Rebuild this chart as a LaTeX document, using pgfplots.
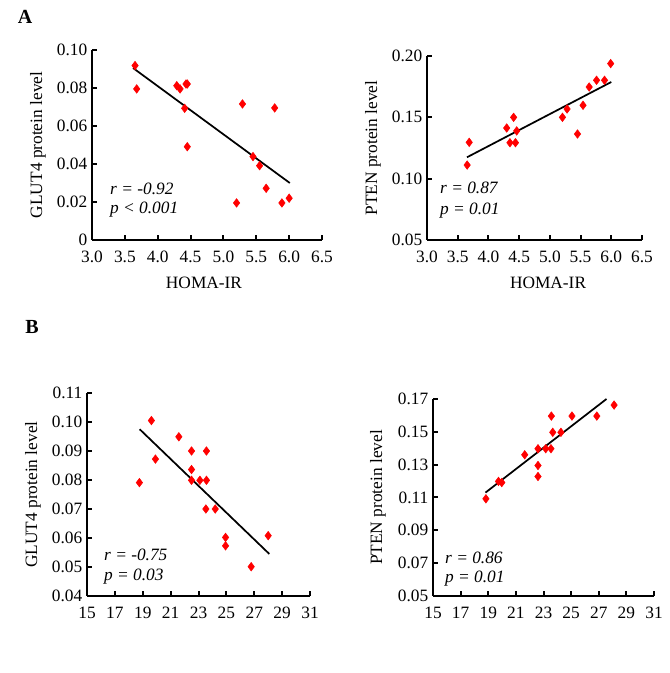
\documentclass[border=0pt]{standalone}
\usepackage{pgfplots}
\pgfplotsset{compat=1.18}
\usepackage{fontspec}
\setmainfont{Liberation Serif}
\pgfplotsset{
  myaxis/.style={
    scale only axis,
    axis lines=left,
    axis line style={-, line width=1.8pt},
    tick align=inside,
    major tick length=4pt,
    every tick/.style={black, line width=1.5pt},
    tick label style={font=\fontsize{13}{15}\selectfont},
    xticklabel style={yshift=-5pt},
    label style={font=\fontsize{13}{15}\selectfont},
    /pgf/number format/assume math mode=true,
    clip=false,
    anchor=south west,
  },
  dots/.style={only marks, mark=diamond*, mark size=3.2pt, color=red},
  fitline/.style={no marks, black, line width=1.3pt},
}
\newcommand{\ann}{\itshape\fontsize{13}{15}\selectfont}
\begin{document}
\begin{tikzpicture}
\path[use as bounding box] (0,0) rectangle (501.75pt,504.75pt);
\node[font=\bfseries\fontsize{15}{17}\selectfont] at (18.75pt,492pt) {A};
\node[font=\bfseries\fontsize{15}{17}\selectfont] at (24pt,259.5pt) {B};

% A1
\begin{axis}[myaxis, at={(69pt,324.75pt)}, width=172.5pt, height=142.5pt,
  xmin=3, xmax=6.5, ymin=0, ymax=0.10,
  xtick={3,3.5,4,4.5,5,5.5,6,6.5},
  xticklabels={3.0,3.5,4.0,4.5,5.0,5.5,6.0,6.5},
  ytick={0,0.02,0.04,0.06,0.08,0.10},
  yticklabels={0,0.02,0.04,0.06,0.08,0.10},
  xlabel={HOMA-IR}, ylabel={GLUT4 protein level},
  xlabel style={at={(axis description cs:0.487,-0.226)}, anchor=center},
  ylabel style={at={(axis description cs:-0.235,0.5)}, anchor=center}]
\addplot[dots] table {
3.655 0.0918
3.68 0.0795
4.29 0.0812
4.34 0.0795
4.43 0.0821
4.45 0.0821
4.41 0.0693
4.45 0.0491
5.29 0.0716
5.78 0.0695
5.45 0.0439
5.55 0.0391
5.65 0.0272
5.20 0.0195
5.89 0.0195
6.00 0.0220
};
\addplot[fitline] coordinates {(3.625,0.0905) (6.01,0.0300)};
\node[anchor=west, inner sep=0, font=\ann] at (rel axis cs:0.078,0.268) {r = -0.92};
\node[anchor=west, inner sep=0, font=\ann] at (rel axis cs:0.078,0.158) {p < 0.001};
\end{axis}

% A2
\begin{axis}[myaxis, at={(320.25pt,324.75pt)}, width=161.25pt, height=138pt,
  xmin=3, xmax=6.5, ymin=0.05, ymax=0.20,
  xtick={3,3.5,4,4.5,5,5.5,6,6.5},
  xticklabels={3.0,3.5,4.0,4.5,5.0,5.5,6.0,6.5},
  ytick={0.05,0.10,0.15,0.20},
  yticklabels={0.05,0.10,0.15,0.20},
  xlabel={HOMA-IR}, ylabel={PTEN protein level},
  xlabel style={at={(axis description cs:0.563,-0.234)}, anchor=center},
  ylabel style={at={(axis description cs:-0.251,0.5)}, anchor=center}]
\addplot[dots] table {
3.654 0.1111
3.687 0.1296
4.297 0.1413
4.35 0.1293
4.41 0.1500
4.44 0.1293
4.46 0.1389
5.205 0.1500
5.28 0.1568
5.45 0.1364
5.54 0.1598
5.64 0.1747
5.76 0.1802
5.89 0.1802
5.99 0.1938
};
\addplot[fitline] coordinates {(3.65,0.1174) (6.0,0.1788)};
\node[anchor=west, inner sep=0, font=\ann] at (rel axis cs:0.06,0.283) {r = 0.87};
\node[anchor=west, inner sep=0, font=\ann] at (rel axis cs:0.06,0.158) {p = 0.01};
\end{axis}

% B1
\begin{axis}[myaxis, at={(65.25pt,57.75pt)}, width=167.25pt, height=152.25pt,
  xmin=15, xmax=31, ymin=0.04, ymax=0.11,
  xtick={15,17,19,21,23,25,27,29,31},
  xticklabels={15,17,19,21,23,25,27,29,31},
  ytick={0.04,0.05,0.06,0.07,0.08,0.09,0.10,0.11},
  yticklabels={0.04,0.05,0.06,0.07,0.08,0.09,0.10,0.11},
  ylabel={GLUT4 protein level},
  ylabel style={at={(axis description cs:-0.242,0.5)}, anchor=center}]
\addplot[dots] table {
18.76 0.0791
19.62 0.1005
19.91 0.0872
21.59 0.0949
22.50 0.0900
22.50 0.0836
22.50 0.0799
23.10 0.0799
23.57 0.0799
23.57 0.0900
23.53 0.0700
24.20 0.0700
24.94 0.0602
24.94 0.0573
26.78 0.0501
28.00 0.0608
};
\addplot[fitline] coordinates {(18.78,0.0975) (28.08,0.0545)};
\node[anchor=west, inner sep=0, font=\ann] at (rel axis cs:0.076,0.202) {r = -0.75};
\node[anchor=west, inner sep=0, font=\ann] at (rel axis cs:0.076,0.094) {p = 0.03};
\end{axis}

% B2
\begin{axis}[myaxis, at={(324.75pt,57.75pt)}, width=165.75pt, height=147.75pt,
  xmin=15, xmax=31, ymin=0.05, ymax=0.17,
  xtick={15,17,19,21,23,25,27,29,31},
  xticklabels={15,17,19,21,23,25,27,29,31},
  ytick={0.05,0.07,0.09,0.11,0.13,0.15,0.17},
  yticklabels={0.05,0.07,0.09,0.11,0.13,0.15,0.17},
  ylabel={PTEN protein level},
  ylabel style={at={(axis description cs:-0.249,0.5)}, anchor=center}]
\addplot[dots] table {
18.83 0.1092
19.74 0.1198
19.98 0.1191
21.64 0.1360
22.60 0.1397
22.60 0.1295
22.60 0.1228
23.16 0.1397
23.54 0.1397
23.57 0.1596
23.67 0.1497
24.26 0.1497
25.06 0.1596
26.86 0.1596
28.11 0.1663
};
\addplot[fitline] coordinates {(18.80,0.1130) (27.56,0.1700)};
\node[anchor=west, inner sep=0, font=\ann] at (rel axis cs:0.054,0.193) {r = 0.86};
\node[anchor=west, inner sep=0, font=\ann] at (rel axis cs:0.054,0.086) {p = 0.01};
\end{axis}
\end{tikzpicture}
\end{document}
